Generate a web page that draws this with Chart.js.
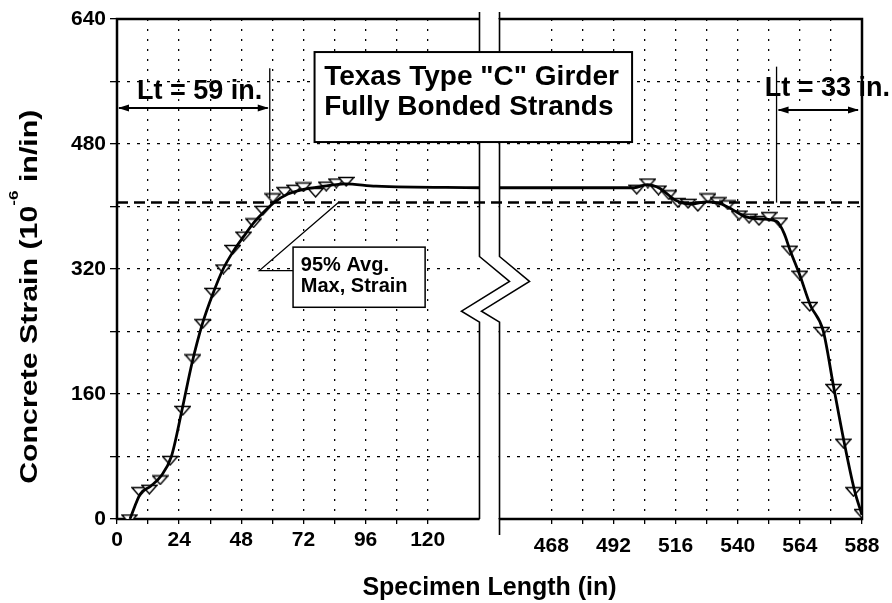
<!DOCTYPE html>
<html>
<head>
<meta charset="utf-8">
<title>Texas Type C Girder - Concrete Strain</title>
<script src="https://cdn.jsdelivr.net/npm/chart.js@4/dist/chart.umd.min.js"></script>
<style>
  html, body { margin: 0; background: #fff; }
  canvas { display: block; }
</style>
</head>
<body>
<canvas id="strainChart" width="892" height="603"></canvas>
<script>
// left end of the girder, measured points (in, microstrain)
const leftLength = [4.8, 8.7, 12.5, 16.7, 20.5, 25.4, 29.3, 33.1, 37, 41.1, 44.7, 48.9, 52.7, 56.3, 60.2, 64.7, 68.6, 72, 76.7, 80.8, 84.7, 88.5];
const leftStrain = [0, 35, 38, 50, 75, 139, 205, 250, 290, 320, 345, 362, 379, 395, 411, 419, 422, 425, 418, 426, 430, 432];
// smooth curve through the left end
const leftFitLength = [5, 9, 13, 17, 21, 25, 29, 33, 37, 41, 45, 49, 53, 57, 61, 66, 72, 80, 88, 100, 140];
const leftFitStrain = [0, 32, 42, 55, 80, 138, 200, 250, 288, 320, 343, 362, 380, 394, 406, 416, 422, 426, 429, 426, 424];

// right end
const rightLength = [501, 505.3, 509.4, 513.4, 516.9, 520.8, 524.6, 528.5, 532.4, 536.2, 540.5, 544.4, 548.2, 552.1, 556.2, 560.1, 564, 567.8, 572.5, 577, 580.8, 584.7, 588];
const rightStrain = [422, 430, 421, 415, 405, 404, 400, 411, 406, 402, 389, 385, 382, 387, 380, 344, 312, 272, 240, 167, 97, 35, 7];
const rightFitLength = [448, 500, 505, 510, 516, 522, 528, 533, 538, 543, 549, 555, 558, 560, 564, 568, 573, 577, 581, 585, 588];
const rightFitStrain = [424, 424, 428, 423, 408, 403, 406, 404, 396, 387, 384, 381, 365, 346, 312, 274, 241, 170, 100, 38, 5];

// axes
const strainTicks = [0, 160, 320, 480, 640];
const leftTicks = [0, 24, 48, 72, 96, 120];
const rightTicks = [468, 492, 516, 540, 564, 588];
const leftRange = [0, 140];
const rightRange = [448, 588];

// reference levels
const avg95Strain = 405;
const ltLeft = 59;
const ltRight = 33;

const INK = '#000';
const FONT = "'Liberation Sans', Arial, Helvetica, sans-serif";

// placement of the notes, in axis units
const notes = {
  ltLeftTop: 577, ltLeftFoot: 411, ltLeftArrow: 526, ltLeftText: [31.9, 537],
  ltRightTop: 579, ltRightArrow: 523.5, ltRightText: [574.6, 541],
  titleBox: { x0: 76.3, x1: 499.2, top: 597.7, bottom: 482.5, textX: 80, line1: 555, line2: 517 },
  avgBox: { x0: 68, x1: 119, top: 348, bottom: 271, textX: 71, line1: 317, line2: 291 },
  avgKnee: [55, 318], avgTip: [85.5, avg95Strain],
  breakLevels: [336, 304, 266, 252],
  yTitleSpan: [524, 45]
};

const pts = (xs, ys) => xs.map((x, i) => ({ x, y: ys[i] }));

// flattened open triangle marker
const tri = document.createElement('canvas');
tri.width = 17; tri.height = 11;
(() => {
  const c = tri.getContext('2d');
  c.fillStyle = '#fff'; c.strokeStyle = INK; c.lineWidth = 1.4;
  c.beginPath(); c.moveTo(1, 1.5); c.lineTo(16, 1.5); c.lineTo(8.5, 10); c.closePath();
  c.fill(); c.stroke();
})();

function arrowHead(ctx, x, y, dir) {
  ctx.beginPath();
  ctx.moveTo(x, y);
  ctx.lineTo(x - dir * 11, y - 3.5);
  ctx.lineTo(x - dir * 11, y + 3.5);
  ctx.closePath();
  ctx.fill();
}

function line(ctx, x0, y0, x1, y1) {
  ctx.beginPath(); ctx.moveTo(x0, y0); ctx.lineTo(x1, y1); ctx.stroke();
}

const decor = {
  id: 'decor',
  beforeDatasetsDraw(chart) {
    const { ctx, chartArea: a, scales: { xL, xR, y } } = chart;
    ctx.save();
    // empty gap between the two panels
    ctx.fillStyle = '#fff';
    ctx.fillRect(xL.right + 1, a.top - 12, xR.left - xL.right - 2, a.bottom - a.top + 40);

    ctx.strokeStyle = INK;
    ctx.lineWidth = 2.5;
    ctx.beginPath();
    ctx.moveTo(xL.right, a.top); ctx.lineTo(a.left, a.top); ctx.lineTo(a.left, a.bottom); ctx.lineTo(xL.right, a.bottom);
    ctx.moveTo(xR.left, a.top); ctx.lineTo(a.right, a.top); ctx.lineTo(a.right, a.bottom); ctx.lineTo(xR.left, a.bottom);
    ctx.stroke();

    // broken axis with zigzag
    const [b0, b1, b2, b3] = notes.breakLevels.map(v => y.getPixelForValue(v));
    const zig = x => [[x, b0], [x + 30, b1], [x - 18, b2], [x, b3]];
    const zl = zig(xL.right), zr = zig(xR.left);
    ctx.beginPath();
    zl.forEach(([px, py], i) => i ? ctx.lineTo(px, py) : ctx.moveTo(px, py));
    zr.slice().reverse().forEach(([px, py]) => ctx.lineTo(px, py));
    ctx.closePath();
    ctx.fill();
    ctx.lineWidth = 1.6;
    [[xL.right, a.bottom], [xR.left, a.bottom + 16]].forEach(([x, yEnd], k) => {
      const z = k ? zr : zl;
      ctx.beginPath();
      ctx.moveTo(x, a.top - 7);
      z.forEach(([px, py]) => ctx.lineTo(px, py));
      ctx.lineTo(x, yEnd);
      ctx.stroke();
    });
    ctx.restore();
  },
  afterDatasetsDraw(chart) {
    const { ctx, chartArea: a, scales: { xL, xR, y } } = chart;
    ctx.save();
    ctx.strokeStyle = INK; ctx.fillStyle = INK;

    // 95% average max strain
    const y95 = y.getPixelForValue(avg95Strain);
    ctx.lineWidth = 2.5;
    ctx.setLineDash([11, 6]);
    line(ctx, a.left, y95, a.right, y95);
    ctx.setLineDash([]);

    // transfer length, left end
    ctx.lineWidth = 1.3;
    const xl = xL.getPixelForValue(ltLeft);
    line(ctx, xl, y.getPixelForValue(notes.ltLeftTop), xl, y.getPixelForValue(notes.ltLeftFoot));
    const ya = y.getPixelForValue(notes.ltLeftArrow);
    ctx.lineWidth = 2;
    line(ctx, a.left + 2, ya, xl - 2, ya);
    arrowHead(ctx, a.left + 1, ya, -1);
    arrowHead(ctx, xl - 1, ya, 1);

    // transfer length, right end
    ctx.lineWidth = 1.3;
    const xr = xR.getPixelForValue(rightRange[1] - ltRight);
    line(ctx, xr, y.getPixelForValue(notes.ltRightTop), xr, y95);
    const yb = y.getPixelForValue(notes.ltRightArrow);
    ctx.lineWidth = 2;
    line(ctx, xr + 2, yb, a.right - 4, yb);
    arrowHead(ctx, xr + 1, yb, -1);
    arrowHead(ctx, a.right - 3, yb, 1);

    ctx.font = `bold 27px ${FONT}`;
    ctx.textAlign = 'center';
    ctx.textBaseline = 'alphabetic';
    ctx.fillText('Lt = 59 in.', xL.getPixelForValue(notes.ltLeftText[0]), y.getPixelForValue(notes.ltLeftText[1]));
    ctx.fillText('Lt = 33 in.', xR.getPixelForValue(notes.ltRightText[0]), y.getPixelForValue(notes.ltRightText[1]));

    // title box
    const t = notes.titleBox;
    const tx0 = xL.getPixelForValue(t.x0), tx1 = xR.getPixelForValue(t.x1);
    const ty0 = y.getPixelForValue(t.top), ty1 = y.getPixelForValue(t.bottom);
    ctx.fillStyle = '#fff';
    ctx.fillRect(tx0, ty0, tx1 - tx0, ty1 - ty0);
    ctx.lineWidth = 2;
    ctx.strokeRect(tx0, ty0, tx1 - tx0, ty1 - ty0);
    ctx.fillStyle = INK;
    ctx.textAlign = 'left';
    ctx.font = `bold 28px ${FONT}`;
    ctx.fillText('Texas Type "C" Girder', xL.getPixelForValue(t.textX), y.getPixelForValue(t.line1));
    ctx.fillText('Fully Bonded Strands', xL.getPixelForValue(t.textX), y.getPixelForValue(t.line2));

    // 95% note with leader
    const b = notes.avgBox;
    const bx0 = xL.getPixelForValue(b.x0), bx1 = xL.getPixelForValue(b.x1);
    const by0 = y.getPixelForValue(b.top), by1 = y.getPixelForValue(b.bottom);
    const kx = xL.getPixelForValue(notes.avgKnee[0]), ky = y.getPixelForValue(notes.avgKnee[1]);
    ctx.lineWidth = 1.3;
    ctx.beginPath();
    ctx.moveTo(bx0, ky); ctx.lineTo(kx, ky);
    ctx.lineTo(xL.getPixelForValue(notes.avgTip[0]), y.getPixelForValue(notes.avgTip[1]));
    ctx.stroke();
    ctx.fillStyle = '#fff';
    ctx.fillRect(bx0, by0, bx1 - bx0, by1 - by0);
    ctx.lineWidth = 1.5;
    ctx.strokeRect(bx0, by0, bx1 - bx0, by1 - by0);
    ctx.fillStyle = INK;
    ctx.font = `bold 20px ${FONT}`;
    ctx.fillText('95% Avg.', xL.getPixelForValue(b.textX), y.getPixelForValue(b.line1));
    ctx.fillText('Max, Strain', xL.getPixelForValue(b.textX), y.getPixelForValue(b.line2));
    ctx.restore();
  },
  afterDraw(chart) {
    const { ctx, chartArea: a, scales: { y } } = chart;
    ctx.save();
    ctx.fillStyle = INK;
    // x title
    ctx.font = `bold 25px ${FONT}`;
    ctx.textAlign = 'center';
    ctx.fillText('Specimen Length (in)', (a.left + a.right) / 2, 595);

    // y title with superscript, rotated and stretched to span the axis like the original
    const main = `bold 23px ${FONT}`, sup = `bold 13px ${FONT}`;
    const parts = [['Concrete Strain (10', main, 0], ['-6', sup, -19], [' in/in)', main, 0]];
    const widths = parts.map(([s, f]) => { ctx.font = f; return ctx.measureText(s).width; });
    const total = widths.reduce((p, c) => p + c, 0);
    const yTop = y.getPixelForValue(notes.yTitleSpan[0]);
    const yBot = y.getPixelForValue(notes.yTitleSpan[1]);
    ctx.translate(37, yBot);
    ctx.rotate(-Math.PI / 2);
    ctx.scale((yBot - yTop) / total, 1);
    ctx.textAlign = 'left';
    let pos = 0;
    parts.forEach(([s, f, dy], i) => { ctx.font = f; ctx.fillText(s, pos, dy); pos += widths[i]; });
    ctx.restore();
  }
};

const tickFont = { family: FONT, size: 21, weight: 'bold' };
const dots = (dash) => ({ display: false, dash });

const xAxis = (range, ticks, pad, weight) => ({
  type: 'linear', position: 'bottom', stack: 'x', stackWeight: 362, weight,
  min: range[0], max: range[1],
  afterFit: s => { s.height = 84; },
  ticks: {
    stepSize: 12, autoSkip: false, maxRotation: 0, padding: pad, color: INK, font: tickFont,
    callback: v => (v < ticks[0] || v > ticks[ticks.length - 1]) ? null : (ticks.includes(v) ? v : '')
  },
  grid: { color: INK, lineWidth: 1.3, tickLength: 5 },
  border: dots([2, 8])
});

new Chart(document.getElementById('strainChart'), {
  type: 'scatter',
  data: {
    datasets: [
      { data: pts(leftFitLength, leftFitStrain), xAxisID: 'xL', showLine: true, borderColor: INK, borderWidth: 2.8, pointRadius: 0, cubicInterpolationMode: 'monotone', order: 0 },
      { data: pts(rightFitLength, rightFitStrain), xAxisID: 'xR', showLine: true, borderColor: INK, borderWidth: 2.8, pointRadius: 0, cubicInterpolationMode: 'monotone', order: 0 },
      { data: pts(leftLength, leftStrain), xAxisID: 'xL', pointStyle: tri, pointRadius: 8, order: 1 },
      { data: pts(rightLength, rightStrain), xAxisID: 'xR', pointStyle: tri, pointRadius: 8, order: 1 }
    ]
  },
  options: {
    responsive: false,
    animation: false,
    events: [],
    layout: { padding: { left: 37, right: 30, top: 19, bottom: 0 } },
    plugins: { legend: { display: false }, tooltip: { enabled: false } },
    scales: {
      xL: xAxis(leftRange, leftTicks, 4, 0),
      xGap: { type: 'linear', position: 'bottom', stack: 'x', stackWeight: 20, weight: 1, display: false, min: 0, max: 1 },
      xR: xAxis(rightRange, rightTicks, 10, 2),
      y: {
        min: 0, max: 640,
        afterFit: s => { s.width = 80; },
        ticks: { stepSize: 80, padding: 4, color: INK, font: tickFont, callback: v => strainTicks.includes(v) ? v : '' },
        grid: { color: INK, lineWidth: 1.3, tickLength: 7 },
        border: dots([3, 7])
      }
    }
  },
  plugins: [decor]
});
</script>
</body>
</html>
